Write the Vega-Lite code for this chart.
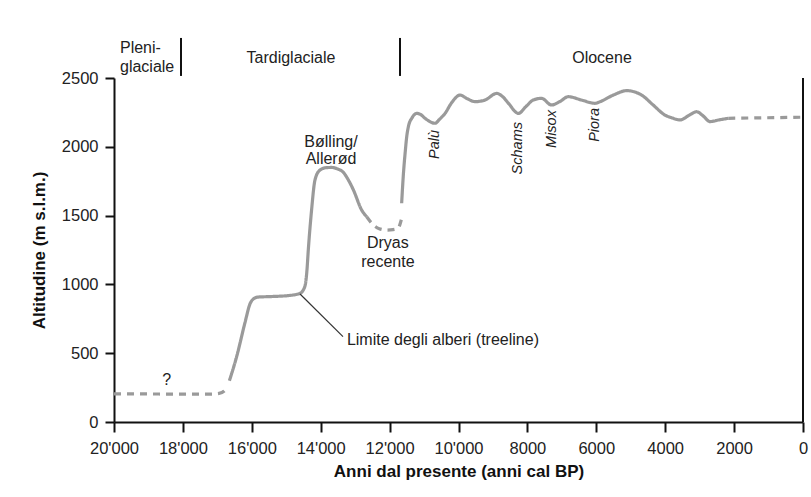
{
  "$schema": "https://vega.github.io/schema/vega-lite/v6.json",
  "width": 689,
  "height": 344,
  "autosize": {"type": "none"},
  "padding": {"left": 114, "top": 78, "right": 8, "bottom": 75},
  "background": "white",
  "config": {
    "view": {"stroke": null},
    "font": "Liberation Sans",
    "text": {"font": "Liberation Sans", "fontSize": 16, "color": "#222"}
  },
  "datasets": {
    "curve": [
      {"seg": "d1", "kind": "dashed", "year": 20000, "alt": 205},
      {"seg": "d1", "kind": "dashed", "year": 18000, "alt": 203},
      {"seg": "d1", "kind": "dashed", "year": 17200, "alt": 203},
      {"seg": "d1", "kind": "dashed", "year": 16950, "alt": 208},
      {"seg": "d1", "kind": "dashed", "year": 16800, "alt": 225},
      {"seg": "d1", "kind": "dashed", "year": 16700, "alt": 258},
      {"seg": "s1", "kind": "solid", "year": 16650, "alt": 300},
      {"seg": "s1", "kind": "solid", "year": 16440, "alt": 475},
      {"seg": "s1", "kind": "solid", "year": 16200, "alt": 720},
      {"seg": "s1", "kind": "solid", "year": 16050, "alt": 860},
      {"seg": "s1", "kind": "solid", "year": 15950, "alt": 895},
      {"seg": "s1", "kind": "solid", "year": 15820, "alt": 908},
      {"seg": "s1", "kind": "solid", "year": 15400, "alt": 912},
      {"seg": "s1", "kind": "solid", "year": 14890, "alt": 920},
      {"seg": "s1", "kind": "solid", "year": 14600, "alt": 935},
      {"seg": "s1", "kind": "solid", "year": 14460, "alt": 985},
      {"seg": "s1", "kind": "solid", "year": 14400, "alt": 1100},
      {"seg": "s1", "kind": "solid", "year": 14360, "alt": 1250},
      {"seg": "s1", "kind": "solid", "year": 14265, "alt": 1540},
      {"seg": "s1", "kind": "solid", "year": 14165, "alt": 1760},
      {"seg": "s1", "kind": "solid", "year": 14020, "alt": 1831},
      {"seg": "s1", "kind": "solid", "year": 13850, "alt": 1848},
      {"seg": "s1", "kind": "solid", "year": 13680, "alt": 1850},
      {"seg": "s1", "kind": "solid", "year": 13500, "alt": 1838},
      {"seg": "s1", "kind": "solid", "year": 13345, "alt": 1815},
      {"seg": "s1", "kind": "solid", "year": 13200, "alt": 1760},
      {"seg": "s1", "kind": "solid", "year": 13050, "alt": 1686},
      {"seg": "s1", "kind": "solid", "year": 12810, "alt": 1540},
      {"seg": "s1", "kind": "solid", "year": 12665, "alt": 1492},
      {"seg": "d2", "kind": "dashed", "year": 12665, "alt": 1492},
      {"seg": "d2", "kind": "dashed", "year": 12470, "alt": 1432},
      {"seg": "d2", "kind": "dashed", "year": 12300, "alt": 1405},
      {"seg": "d2", "kind": "dashed", "year": 12085, "alt": 1395},
      {"seg": "d2", "kind": "dashed", "year": 11900, "alt": 1398},
      {"seg": "d2", "kind": "dashed", "year": 11750, "alt": 1410},
      {"seg": "d2", "kind": "dashed", "year": 11660, "alt": 1470},
      {"seg": "s2", "kind": "solid", "year": 11650, "alt": 1590},
      {"seg": "s2", "kind": "solid", "year": 11600, "alt": 1800},
      {"seg": "s2", "kind": "solid", "year": 11550, "alt": 1953},
      {"seg": "s2", "kind": "solid", "year": 11500, "alt": 2080},
      {"seg": "s2", "kind": "solid", "year": 11455, "alt": 2146},
      {"seg": "s2", "kind": "solid", "year": 11350, "alt": 2210},
      {"seg": "s2", "kind": "solid", "year": 11215, "alt": 2243},
      {"seg": "s2", "kind": "solid", "year": 11100, "alt": 2235},
      {"seg": "s2", "kind": "solid", "year": 10970, "alt": 2207},
      {"seg": "s2", "kind": "solid", "year": 10680, "alt": 2171},
      {"seg": "s2", "kind": "solid", "year": 10550, "alt": 2200},
      {"seg": "s2", "kind": "solid", "year": 10390, "alt": 2243},
      {"seg": "s2", "kind": "solid", "year": 10200, "alt": 2320},
      {"seg": "s2", "kind": "solid", "year": 9955, "alt": 2376},
      {"seg": "s2", "kind": "solid", "year": 9750, "alt": 2350},
      {"seg": "s2", "kind": "solid", "year": 9520, "alt": 2328},
      {"seg": "s2", "kind": "solid", "year": 9230, "alt": 2340},
      {"seg": "s2", "kind": "solid", "year": 8890, "alt": 2388},
      {"seg": "s2", "kind": "solid", "year": 8700, "alt": 2360},
      {"seg": "s2", "kind": "solid", "year": 8550, "alt": 2316},
      {"seg": "s2", "kind": "solid", "year": 8260, "alt": 2243},
      {"seg": "s2", "kind": "solid", "year": 8050, "alt": 2290},
      {"seg": "s2", "kind": "solid", "year": 7830, "alt": 2340},
      {"seg": "s2", "kind": "solid", "year": 7590, "alt": 2352},
      {"seg": "s2", "kind": "solid", "year": 7300, "alt": 2304},
      {"seg": "s2", "kind": "solid", "year": 7050, "alt": 2330},
      {"seg": "s2", "kind": "solid", "year": 6815, "alt": 2364},
      {"seg": "s2", "kind": "solid", "year": 6430, "alt": 2340},
      {"seg": "s2", "kind": "solid", "year": 6040, "alt": 2316},
      {"seg": "s2", "kind": "solid", "year": 5890, "alt": 2328},
      {"seg": "s2", "kind": "solid", "year": 5505, "alt": 2376},
      {"seg": "s2", "kind": "solid", "year": 5120, "alt": 2408},
      {"seg": "s2", "kind": "solid", "year": 4900, "alt": 2400},
      {"seg": "s2", "kind": "solid", "year": 4685, "alt": 2376},
      {"seg": "s2", "kind": "solid", "year": 4350, "alt": 2304},
      {"seg": "s2", "kind": "solid", "year": 4010, "alt": 2231},
      {"seg": "s2", "kind": "solid", "year": 3800, "alt": 2210},
      {"seg": "s2", "kind": "solid", "year": 3570, "alt": 2195},
      {"seg": "s2", "kind": "solid", "year": 3300, "alt": 2230},
      {"seg": "s2", "kind": "solid", "year": 3090, "alt": 2255},
      {"seg": "s2", "kind": "solid", "year": 2900, "alt": 2225},
      {"seg": "s2", "kind": "solid", "year": 2700, "alt": 2183},
      {"seg": "s2", "kind": "solid", "year": 2450, "alt": 2195},
      {"seg": "s2", "kind": "solid", "year": 2170, "alt": 2207},
      {"seg": "d3", "kind": "dashed", "year": 2170, "alt": 2207},
      {"seg": "d3", "kind": "dashed", "year": 0, "alt": 2215}
    ],
    "labelsCenter": [
      {"year": 14862, "alt": 2645, "label": "Tardiglaciale"},
      {"year": 5835, "alt": 2645, "label": "Olocene"},
      {"year": 13700, "alt": 2035, "label": "Bølling/"},
      {"year": 13700, "alt": 1911, "label": "Allerød"},
      {"year": 12050, "alt": 1299, "label": "Dryas"},
      {"year": 12050, "alt": 1165, "label": "recente"},
      {"year": 18470, "alt": 305, "label": "?"}
    ],
    "labelsLeft": [
      {"year": 19826, "alt": 2718, "label": "Pleni-"},
      {"year": 19826, "alt": 2580, "label": "glaciale"},
      {"year": 13240, "alt": 596, "label": "Limite degli alberi (treeline)"}
    ],
    "events": [
      {"year": 10682, "alt": 2122, "label": "Palù"},
      {"year": 8264, "alt": 2180, "label": "Schams"},
      {"year": 7298, "alt": 2267, "label": "Misox"},
      {"year": 6038, "alt": 2282, "label": "Piora"}
    ],
    "seps": [
      {"year": 18055, "lo": 2515, "hi": 2791},
      {"year": 11698, "lo": 2515, "hi": 2791}
    ],
    "leader": [
      {"year": 14600, "alt": 930, "year2": 13353, "alt2": 620}
    ],
    "right": [
      {"year": 0, "lo": 0, "hi": 2500}
    ]
  },
  "layer": [
    {
      "data": {"name": "curve"},
      "mark": {"type": "line", "interpolate": "monotone", "color": "#9a9a9a", "strokeWidth": 3.2},
      "encoding": {
        "x": {
          "field": "year", "type": "quantitative",
          "scale": {"domain": [20000, 0], "nice": false},
          "axis": {
            "title": "Anni dal presente (anni cal BP)",
            "values": [20000, 18000, 16000, 14000, 12000, 10000, 8000, 6000, 4000, 2000, 0],
            "labelExpr": "datum.value >= 10000 ? floor(datum.value / 1000) + \"'000\" : '' + datum.value",
            "labelFont": "Liberation Sans", "labelFontSize": 16.5, "labelColor": "#222",
            "labelPadding": 8, "labelFlush": false,
            "tickSize": 10, "tickWidth": 2, "tickColor": "#111",
            "domainColor": "#111", "domainWidth": 2, "grid": false,
            "titleFont": "Liberation Sans", "titleFontSize": 17, "titleFontWeight": "bold",
            "titleColor": "#111", "titlePadding": 7
          }
        },
        "y": {
          "field": "alt", "type": "quantitative",
          "scale": {"domain": [0, 2500], "nice": false},
          "axis": {
            "title": "Altitudine (m s.l.m.)",
            "values": [0, 500, 1000, 1500, 2000, 2500],
            "format": "d",
            "labelFont": "Liberation Sans", "labelFontSize": 16.5, "labelColor": "#222",
            "labelPadding": 7,
            "tickSize": 9, "tickWidth": 2, "tickColor": "#111",
            "domainColor": "#111", "domainWidth": 2, "grid": false,
            "titleFont": "Liberation Sans", "titleFontSize": 17, "titleFontWeight": "bold",
            "titleColor": "#111", "titlePadding": 13
          }
        },
        "detail": {"field": "seg"},
        "strokeDash": {
          "field": "kind", "type": "nominal",
          "scale": {"domain": ["solid", "dashed"], "range": [[1, 0], [7, 6]]},
          "legend": null
        },
        "order": {"field": "year", "sort": "descending"}
      }
    },
    {
      "data": {"name": "right"},
      "mark": {"type": "rule", "color": "#111", "strokeWidth": 2},
      "encoding": {
        "x": {"field": "year", "type": "quantitative"},
        "y": {"field": "lo", "type": "quantitative"},
        "y2": {"field": "hi"}
      }
    },
    {
      "data": {"name": "seps"},
      "mark": {"type": "rule", "color": "#111", "strokeWidth": 2},
      "encoding": {
        "x": {"field": "year", "type": "quantitative"},
        "y": {"field": "lo", "type": "quantitative"},
        "y2": {"field": "hi"}
      }
    },
    {
      "data": {"name": "leader"},
      "mark": {"type": "rule", "color": "#333", "strokeWidth": 1.2},
      "encoding": {
        "x": {"field": "year", "type": "quantitative"},
        "y": {"field": "alt", "type": "quantitative"},
        "x2": {"field": "year2"},
        "y2": {"field": "alt2"}
      }
    },
    {
      "data": {"name": "labelsCenter"},
      "mark": {"type": "text", "align": "center", "baseline": "middle", "fontSize": 16, "color": "#222"},
      "encoding": {
        "x": {"field": "year", "type": "quantitative"},
        "y": {"field": "alt", "type": "quantitative"},
        "text": {"field": "label"}
      }
    },
    {
      "data": {"name": "labelsLeft"},
      "mark": {"type": "text", "align": "left", "baseline": "middle", "fontSize": 16, "color": "#222"},
      "encoding": {
        "x": {"field": "year", "type": "quantitative"},
        "y": {"field": "alt", "type": "quantitative"},
        "text": {"field": "label"}
      }
    },
    {
      "data": {"name": "events"},
      "mark": {"type": "text", "angle": -90, "align": "right", "baseline": "middle", "fontSize": 14.5, "fontStyle": "italic", "color": "#222"},
      "encoding": {
        "x": {"field": "year", "type": "quantitative"},
        "y": {"field": "alt", "type": "quantitative"},
        "text": {"field": "label"}
      }
    }
  ]
}
